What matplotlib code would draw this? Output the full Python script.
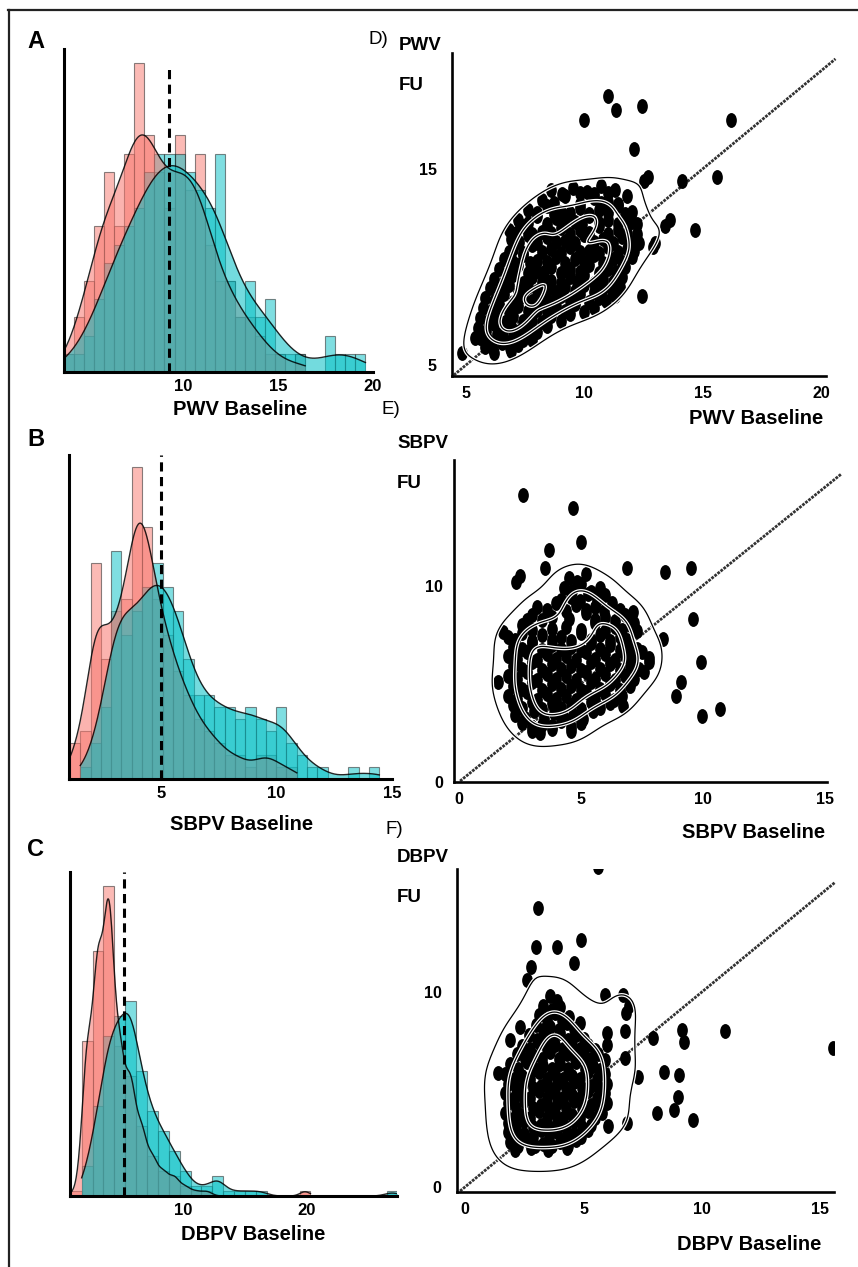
import numpy as np
import matplotlib
matplotlib.use("Agg")
import matplotlib.pyplot as plt
import matplotlib.patheffects as pe
import seaborn as sns
from matplotlib.path import Path
from matplotlib.transforms import Affine2D
from matplotlib.lines import Line2D

plt.rcParams['font.family'] = ['Liberation Sans', 'DejaVu Sans']

RED, CYAN = '#F8766D', '#00BFC4'

# ---- histogram data (counts per bin, 30 bins each) ----
pwv_edges = np.linspace(3.7, 19.6, 31)
pwv_red = [1, 3, 5, 8, 11, 8, 12, 17, 13, 11, 9, 13, 10, 12, 7, 5, 5, 3, 3, 2, 1, 1, 0, 1, 0, 0, 0, 0, 0, 0]
pwv_cyan = [1, 1, 2, 4, 6, 7, 8, 9, 11, 12, 12, 12, 11, 10, 9, 12, 5, 3, 5, 3, 4, 1, 1, 1, 0, 0, 2, 1, 1, 1]
pwv_mean = 9.25

sbpv_edges = np.linspace(1.04, 14.45, 31)
sbpv_red = [3, 4, 18, 10, 14, 15, 26, 21, 15, 12, 9, 7, 5, 4, 3, 2, 2, 1, 2, 2, 1, 1, 0, 0, 0, 0, 0, 0, 0, 0]
sbpv_cyan = [0, 1, 3, 6, 19, 12, 14, 16, 18, 16, 14, 10, 7, 7, 6, 6, 5, 6, 5, 4, 6, 3, 2, 1, 1, 0, 0, 1, 0, 1]
sbpv_mean = 4.97

dbpv_edges = np.linspace(0.95, 27.35, 31)
dbpv_red = [1, 31, 49, 62, 30, 24, 14, 8, 5, 4, 2, 1, 1, 0, 0, 0, 0, 0, 0, 0, 0, 1, 0, 0, 0, 0, 0, 0, 0, 0]
dbpv_cyan = [0, 6, 18, 32, 36, 39, 25, 17, 13, 9, 5, 2, 2, 4, 1, 1, 1, 1, 0, 0, 0, 0, 0, 0, 0, 0, 0, 0, 0, 1]
dbpv_mean = 5.24

# ---- scatter data: baseline vs follow-up ----
pwv_base = [8.6, 9.5, 10.1, 10.7, 11.3,
            8.2, 9.2, 10.4, 11.0, 11.8,
            7.6, 8.4, 9.0, 9.8, 10.6, 11.4, 12.0,
            7.2, 8.0, 8.8, 9.6, 10.2, 11.0, 11.8, 12.2,
            6.8, 7.4, 8.2, 9.0, 9.8, 10.6, 11.4, 12.2,
            6.9, 7.6, 8.4, 9.2, 10.0, 10.8, 11.6, 12.3,
            7.0, 7.8, 8.6, 9.4, 10.2, 11.0, 11.8,
            6.6, 7.4, 8.0, 8.8, 9.6, 10.4, 11.2, 12.0,
            6.4, 7.2, 8.0, 8.6, 9.4, 10.2, 11.0, 11.7,
            6.2, 7.0, 7.8, 8.6, 9.4, 10.0, 10.8, 11.6,
            6.0, 6.8, 7.6, 8.4, 9.2, 10.0, 10.8, 11.5,
            5.8, 6.6, 7.4, 8.2, 9.0, 9.8, 10.6, 11.3,
            5.7, 6.4, 7.2, 8.0, 8.8, 9.6, 10.4,
            5.6, 6.3, 7.0, 7.8, 8.6, 9.4,
            5.5, 6.2, 6.9, 7.6, 8.4,
            5.6, 6.3, 7.0, 7.8,
            5.8, 6.5, 7.2,
            6.2, 6.9,
            9.05, 9.8, 10.4, 11.0,
            8.7, 9.8, 10.7, 11.4,
            8.0, 8.7, 9.4, 10.2, 11.0, 11.7,
            7.6, 8.4, 9.2, 9.9, 10.6, 11.4, 12.0,
            7.1, 7.8, 8.6, 9.4, 10.2, 11.0, 11.8,
            7.25, 8.0, 8.8, 9.6, 10.4, 11.2, 11.95,
            6.8, 7.4, 8.2, 9.0, 9.8, 10.6, 11.4, 12.1,
            7.0, 7.7, 8.4, 9.2, 10.0, 10.8, 11.6,
            6.8, 7.6, 8.3, 9.0, 9.8, 10.6, 11.35,
            6.6, 7.4, 8.2, 9.0, 9.7, 10.4, 11.2,
            6.4, 7.2, 8.0, 8.8, 9.6, 10.4, 11.15,
            6.2, 7.0, 7.8, 8.6, 9.4, 10.2, 10.9,
            6.05, 6.8, 7.6, 8.4, 9.2, 10.0,
            5.95, 6.65, 7.4, 8.2, 9.0,
            5.85, 6.55, 7.25, 8.0,
            5.95, 6.65, 7.4,
            6.15, 6.85,
            11.0, 11.33, 12.44, 9.98, 16.17, 12.1, 12.5, 12.7, 14.1, 15.6,
            13.6, 13.4, 14.65, 12.9, 13.0, 12.45, 4.82, 5.4]
pwv_fu = [13.9, 14.0, 13.8, 14.1, 13.9,
          13.4, 13.6, 13.5, 13.3, 13.6,
          12.9, 13.1, 12.8, 13.0, 12.9, 13.1, 12.8,
          12.4, 12.6, 12.5, 12.3, 12.6, 12.4, 12.5, 12.2,
          11.9, 12.1, 11.8, 12.0, 11.9, 12.1, 11.9, 11.7,
          11.4, 11.6, 11.5, 11.3, 11.6, 11.4, 11.5, 11.2,
          10.9, 11.1, 10.9, 11.0, 10.8, 11.0, 10.9,
          10.4, 10.6, 10.3, 10.5, 10.4, 10.6, 10.4, 10.5,
          9.9, 10.1, 9.8, 10.0, 9.9, 10.1, 9.9, 10.0,
          9.4, 9.6, 9.5, 9.3, 9.5, 9.6, 9.4, 9.5,
          8.9, 9.1, 9.0, 8.8, 9.0, 9.1, 8.9, 9.0,
          8.4, 8.6, 8.5, 8.3, 8.5, 8.6, 8.4, 8.5,
          7.9, 8.1, 8.0, 7.8, 8.0, 8.1, 7.9,
          7.4, 7.6, 7.5, 7.3, 7.5, 7.6,
          6.9, 7.1, 7.0, 6.8, 7.0,
          6.4, 6.6, 6.5, 6.3,
          5.9, 6.1, 6.0,
          5.6, 5.7,
          13.7, 13.75, 13.7, 13.75,
          13.25, 13.2, 13.25, 13.2,
          12.75, 12.7, 12.75, 12.7, 12.75, 12.7,
          12.25, 12.2, 12.25, 12.2, 12.25, 12.2, 12.3,
          11.75, 11.7, 11.75, 11.7, 11.75, 11.7, 11.75,
          11.25, 11.2, 11.25, 11.2, 11.25, 11.2, 11.25,
          10.75, 10.7, 10.75, 10.7, 10.75, 10.7, 10.75, 10.8,
          10.25, 10.2, 10.25, 10.2, 10.25, 10.2, 10.25,
          9.75, 9.7, 9.75, 9.7, 9.75, 9.7, 9.75,
          9.25, 9.2, 9.25, 9.2, 9.25, 9.2, 9.25,
          8.75, 8.7, 8.75, 8.7, 8.75, 8.7, 8.75,
          8.25, 8.2, 8.25, 8.2, 8.25, 8.2, 8.25,
          7.75, 7.7, 7.75, 7.7, 7.75, 7.7,
          7.25, 7.2, 7.25, 7.2, 7.25,
          6.75, 6.7, 6.75, 6.7,
          6.25, 6.2, 6.25,
          5.8, 5.85,
          18.7, 18.0, 18.2, 17.5, 17.5, 16.0, 14.4, 14.6, 14.4, 14.6,
          12.4, 12.1, 11.9, 11.0, 11.2, 8.5, 5.6, 6.4]

sbpv_base = [4.5, 5.2,
             4.3, 5.0, 5.8,
             4.6, 5.3, 6.0,
             3.2, 4.0, 4.8, 5.6, 6.3,
             3.0, 3.8, 5.2, 6.0, 6.8,
             2.6, 4.4, 5.6, 6.4, 7.0,
             2.0, 2.6, 3.4, 4.2, 5.0, 5.8, 6.6,
             2.2, 3.0, 3.8, 4.6, 5.4, 6.2, 7.0,
             2.0, 2.8, 3.6, 4.4, 5.2, 6.0, 6.8, 7.5,
             2.2, 3.0, 3.8, 4.6, 5.4, 6.2, 7.0, 7.8,
             2.0, 2.8, 3.6, 4.4, 5.2, 6.0, 6.8, 7.6,
             2.2, 3.0, 3.8, 4.6, 5.4, 6.2, 7.0,
             2.0, 2.8, 3.6, 4.4, 5.2, 6.0, 6.7,
             2.2, 3.0, 3.8, 4.6, 5.4, 6.2,
             2.3, 3.1, 3.9, 4.7, 5.5,
             2.6, 3.4, 4.2, 5.0,
             3.0, 3.8, 4.6,
             4.85,
             4.65, 5.4,
             4.2, 4.95, 5.65,
             3.6, 4.4, 5.2, 5.95, 6.6,
             3.4, 4.5, 5.6, 6.4, 2.8,
             3.0, 3.8, 5.0, 6.0, 6.7, 7.3,
             2.3, 3.0, 3.8, 4.6, 5.4, 6.2, 6.9,
             2.6, 3.4, 4.2, 5.0, 5.8, 6.6, 7.3,
             2.4, 3.2, 4.0, 4.8, 5.6, 6.4, 7.15, 7.8,
             2.6, 3.4, 4.2, 5.0, 5.8, 6.6, 7.4,
             2.4, 3.2, 4.0, 4.8, 5.6, 6.4, 7.2,
             2.6, 3.4, 4.2, 5.0, 5.8, 6.6,
             2.4, 3.2, 4.0, 4.8, 5.6, 6.35,
             2.6, 3.4, 4.2, 5.0, 5.8,
             2.7, 3.5, 4.3, 5.1,
             3.0, 3.8, 4.6,
             2.61, 4.69, 5.0, 3.7, 3.52, 2.5, 2.36, 6.9, 8.47, 9.54, 9.6, 8.38,
             9.92, 9.13, 8.92, 9.99, 10.7, 7.15, 7.2, 1.82, 1.6, 3.32, 6.73]
sbpv_fu = [10.4, 10.6,
           9.9, 10.1, 9.9,
           9.4, 9.6, 9.5,
           8.9, 9.1, 9.0, 8.9, 9.1,
           8.5, 8.4, 8.6, 8.4, 8.5,
           8.0, 7.9, 8.1, 7.9, 8.0,
           7.4, 7.6, 7.5, 7.4, 7.6, 7.5, 7.4,
           6.9, 7.1, 7.0, 6.9, 7.1, 7.0, 6.9,
           6.4, 6.6, 6.5, 6.4, 6.6, 6.5, 6.4, 6.6,
           5.9, 6.1, 6.0, 5.9, 6.1, 6.0, 5.9, 6.1,
           5.4, 5.6, 5.5, 5.4, 5.6, 5.5, 5.4, 5.6,
           4.9, 5.1, 5.0, 4.9, 5.1, 5.0, 4.9,
           4.4, 4.6, 4.5, 4.4, 4.6, 4.5, 4.4,
           3.9, 4.1, 4.0, 3.9, 4.1, 4.0,
           3.4, 3.6, 3.5, 3.4, 3.6,
           3.0, 2.9, 3.1, 3.0,
           2.6, 2.7, 2.6,
           10.2,
           9.75, 9.7,
           9.25, 9.2, 9.25,
           8.75, 8.7, 8.75, 8.7, 8.75,
           8.25, 8.3, 8.25, 8.2, 8.25,
           7.75, 7.8, 7.75, 7.7, 7.75, 7.7,
           7.25, 7.2, 7.25, 7.2, 7.25, 7.2, 7.25,
           6.75, 6.7, 6.75, 6.7, 6.75, 6.7, 6.75,
           6.25, 6.2, 6.25, 6.2, 6.25, 6.2, 6.25, 6.3,
           5.75, 5.7, 5.75, 5.7, 5.75, 5.7, 5.75,
           5.25, 5.2, 5.25, 5.2, 5.25, 5.2, 5.25,
           4.75, 4.7, 4.75, 4.7, 4.75, 4.7,
           4.25, 4.2, 4.25, 4.2, 4.25, 4.2,
           3.75, 3.7, 3.75, 3.7, 3.75,
           3.25, 3.2, 3.25, 3.2,
           2.8, 2.85, 2.8,
           14.6, 13.95, 12.24, 11.8, 10.9, 10.5, 10.17, 10.88, 10.68, 10.88, 8.3, 7.3,
           6.12, 5.07, 4.4, 3.37, 3.7, 8.64, 8.1, 7.62, 5.07, 2.52, 3.88]

dbpv_base = [3.6,
             3.3, 4.0,
             3.1, 3.8, 4.4,
             3.0, 3.6, 4.3,
             2.7, 3.4, 4.0, 4.7,
             2.4, 3.1, 3.8, 4.5, 5.2,
             2.2, 2.9, 3.6, 4.3, 5.0, 5.6,
             1.9, 2.6, 3.3, 4.0, 4.7, 5.4,
             1.7, 2.4, 3.1, 3.8, 4.5, 5.2, 5.9,
             1.8, 2.5, 3.2, 3.9, 4.6, 5.3, 6.0,
             1.7, 2.4, 3.1, 3.8, 4.5, 5.2, 5.9,
             1.8, 2.5, 3.2, 3.9, 4.6, 5.3, 6.0,
             1.7, 2.4, 3.1, 3.8, 4.5, 5.2, 5.8,
             1.8, 2.5, 3.2, 3.9, 4.6, 5.3,
             1.8, 2.5, 3.2, 3.9, 4.6, 5.2,
             1.9, 2.6, 3.3, 4.0, 4.7,
             2.1, 2.8, 3.5, 4.3,
             3.9,
             3.65,
             3.45, 4.1,
             3.3, 3.95, 4.6,
             3.05, 3.7, 4.35, 5.0,
             2.75, 3.45, 4.15, 4.85, 5.5,
             2.55, 3.25, 3.95, 4.65, 5.3, 5.9,
             2.25, 2.95, 3.65, 4.35, 5.05, 5.7,
             2.05, 2.75, 3.45, 4.15, 4.85, 5.55,
             2.15, 2.85, 3.55, 4.25, 4.95, 5.65,
             2.05, 2.75, 3.45, 4.15, 4.85, 5.55,
             2.15, 2.85, 3.55, 4.25, 4.95, 5.65,
             2.05, 2.75, 3.45, 4.15, 4.85, 5.5,
             2.15, 2.85, 3.55, 4.25, 4.95,
             2.15, 2.85, 3.55, 4.25, 4.9,
             2.25, 2.95, 3.65, 4.35,
             5.6, 3.09, 2.99, 3.87, 4.89, 4.6, 2.77, 2.6, 5.9, 6.68, 6.9, 6.8,
             6.75, 4.85, 5.97, 6.0, 2.32, 1.9, 7.92, 9.14, 9.24, 10.97, 15.54,
             6.77, 7.31, 8.4, 9.04, 9.0, 8.8, 8.09, 9.63, 6.82, 6.05, 1.41]
dbpv_fu = [9.8,
           9.3, 9.2,
           8.8, 8.9, 8.7,
           8.3, 8.2, 8.4,
           7.8, 7.7, 7.9, 7.8,
           7.2, 7.4, 7.3, 7.2, 7.3,
           6.8, 6.7, 6.9, 6.8, 6.7, 6.8,
           6.3, 6.4, 6.2, 6.3, 6.4, 6.2,
           5.8, 5.7, 5.9, 5.8, 5.7, 5.9, 5.8,
           5.3, 5.4, 5.2, 5.3, 5.4, 5.2, 5.3,
           4.8, 4.7, 4.9, 4.8, 4.7, 4.9, 4.8,
           4.3, 4.4, 4.2, 4.3, 4.4, 4.2, 4.3,
           3.8, 3.7, 3.9, 3.8, 3.7, 3.9, 3.8,
           3.3, 3.4, 3.2, 3.3, 3.4, 3.2,
           2.8, 2.7, 2.9, 2.8, 2.7, 2.9,
           2.3, 2.4, 2.2, 2.3, 2.4,
           1.9, 2.0, 1.9, 2.0,
           9.55,
           9.05,
           8.55, 8.55,
           8.05, 8.05, 8.1,
           7.55, 7.55, 7.55, 7.6,
           7.05, 7.05, 7.05, 7.05, 7.0,
           6.55, 6.55, 6.55, 6.55, 6.55, 6.5,
           6.05, 6.05, 6.05, 6.05, 6.05, 6.0,
           5.55, 5.55, 5.55, 5.55, 5.55, 5.55,
           5.05, 5.05, 5.05, 5.05, 5.05, 5.05,
           4.55, 4.55, 4.55, 4.55, 4.55, 4.55,
           4.05, 4.05, 4.05, 4.05, 4.05, 4.05,
           3.55, 3.55, 3.55, 3.55, 3.55, 3.55,
           3.05, 3.05, 3.05, 3.05, 3.05,
           2.55, 2.55, 2.55, 2.55, 2.55,
           2.1, 2.1, 2.1, 2.1,
           16.4, 14.3, 12.3, 12.3, 12.67, 11.47, 11.3, 10.6, 9.85, 9.85, 9.3, 8.9,
           8.0, 8.39, 7.88, 7.3, 8.22, 7.55, 7.62, 8.05, 7.45, 7.97, 7.11,
           6.6, 5.66, 5.91, 5.74, 4.63, 3.94, 3.78, 3.44, 3.27, 3.1, 5.83]

W, H = 858, 1267
fig = plt.figure(figsize=(W / 100, H / 100), dpi=100)


def box(l, r, t, b):
    return [l / W, 1 - b / H, (r - l) / W, (b - t) / H]


def ftext(x, y, s, **kw):
    fig.text(x / W, 1 - y / H, s, **kw)


def kde_curve(edges, counts, bw):
    counts = np.asarray(counts, float)
    centers = (edges[:-1] + edges[1:]) / 2
    width = edges[1] - edges[0]
    nz = np.nonzero(counts)[0]
    grid = np.linspace(edges[nz[0]], edges[nz[-1] + 1], 400)
    g = np.exp(-0.5 * ((grid[:, None] - centers[None, :]) / bw) ** 2) / (bw * np.sqrt(2 * np.pi))
    return grid, (g * counts).sum(1) * width


def hist_panel(pos, edges, red, cyan, mean, bws, xlim, ylim, ticks, dash_top):
    ax = fig.add_axes(pos)
    w = edges[1] - edges[0]
    for counts, col, bw in [(red, RED, bws[0]), (cyan, CYAN, bws[1])]:
        ax.bar(edges[:-1], counts, width=w, align='edge', facecolor=(*matplotlib.colors.to_rgb(col), 0.5),
               edgecolor=(0.15, 0.15, 0.15, 0.55), linewidth=0.8, zorder=2)
        gx, gy = kde_curve(edges, counts, bw)
        ax.fill_between(gx, gy, color=col, alpha=0.55, lw=0, zorder=3)
        ax.plot(gx, gy, color='k', lw=1.0, alpha=0.85, zorder=4)
    ax.plot([mean, mean], [0, dash_top], color='k', lw=2.2, ls=(0, (3, 1.8)), zorder=5)
    ax.set_xlim(*xlim)
    ax.set_ylim(*ylim)
    ax.set_xticks(ticks)
    ax.set_yticks([])
    for s in ['top', 'right']:
        ax.spines[s].set_visible(False)
    for s in ['left', 'bottom']:
        ax.spines[s].set_linewidth(2.2)
        ax.spines[s].set_zorder(6)
    ax.tick_params(axis='x', length=0, pad=5, labelsize=12)
    for lab in ax.get_xticklabels():
        lab.set_fontweight('bold')
    return ax


hist_panel(box(64, 373, 49, 372), pwv_edges, pwv_red, pwv_cyan, pwv_mean, (0.75, 0.95),
           (3.7, 20.0), (0, 17.75), [10, 15, 20], 16.9)
hist_panel(box(69, 392, 455, 779), sbpv_edges, sbpv_red, sbpv_cyan, sbpv_mean, (0.42, 0.55),
           (1.0, 15.0), (0, 27), [5, 10, 15], 27)
hist_panel(box(70, 397, 872, 1196), dbpv_edges, dbpv_red, dbpv_cyan, dbpv_mean, (0.42, 0.6),
           (0.89, 27.3), (0, 64.8), [10, 20], 64.8)

ell = Path.unit_circle().transformed(Affine2D().scale(0.72, 1.0))


def scatter_panel(pos, x, y, xlim, ylim, xticks, yticks, line_end, ypad):
    ax = fig.add_axes(pos)
    lo = max(xlim[0], ylim[0]) + 0.05
    ax.plot([lo, line_end], [lo, line_end], color='#333333', lw=2.0, ls=(0, (1.0, 0.4)),
            clip_on=False, zorder=1)
    ax.scatter(x, y, marker=ell, s=115, c='k', linewidths=0, zorder=2)
    sns.kdeplot(x=x, y=y, ax=ax, levels=4, thresh=0.15, bw_adjust=0.85, color='k',
                linewidths=0.9, zorder=3)
    for c in ax.collections[1:]:
        c.set_path_effects([pe.Stroke(linewidth=2.6, foreground='white'), pe.Normal()])
    ax.set_xlim(*xlim)
    ax.set_ylim(*ylim)
    ax.set_xticks(xticks)
    ax.set_yticks(yticks)
    ax.set_xlabel('')
    ax.set_ylabel('')
    for s in ['top', 'right']:
        ax.spines[s].set_visible(False)
    for s in ['left', 'bottom']:
        ax.spines[s].set_linewidth(1.9)
        ax.spines[s].set_zorder(6)
    ax.tick_params(axis='x', length=0, pad=7, labelsize=11.5)
    ax.tick_params(axis='y', length=0, pad=ypad, labelsize=11.5)
    for lab in ax.get_xticklabels() + ax.get_yticklabels():
        lab.set_fontweight('bold')
    return ax


scatter_panel(box(452, 826, 53, 376), pwv_base, pwv_fu, (4.41, 20.2), (4.44, 20.9),
              [5, 10, 15, 20], [5, 15], 20.6, 11)
scatter_panel(box(454, 827, 460, 782), sbpv_base, sbpv_fu, (-0.2, 15.1), (0, 16.4),
              [0, 5, 10, 15], [0, 10], 15.7, 8)
scatter_panel(box(457, 834, 869, 1192), dbpv_base, dbpv_fu, (-0.34, 15.57), (-0.26, 16.3),
              [0, 5, 10, 15], [0, 10], 15.6, 11)

# panel letters and axis texts
for x, y, s in [(36, 42, 'A'), (36, 440, 'B'), (36, 850, 'C')]:
    ftext(x, y, s, fontsize=17, fontweight='bold', ha='center', va='center')
for x, y, s in [(378, 39, 'D)'), (391, 410, 'E)'), (394, 830, 'F)')]:
    ftext(x, y, s, fontsize=13.5, ha='center', va='center')
for x, y, s in [(399, 45, 'PWV'), (399, 86, 'FU'), (397, 444, 'SBPV'), (397, 483, 'FU'),
                (397, 857, 'DBPV'), (397, 897, 'FU')]:
    ftext(x, y, s, fontsize=13.5, fontweight='bold', ha='left', va='center')
for x, y, s in [(240, 409, 'PWV Baseline'), (242, 825, 'SBPV Baseline'), (253, 1235, 'DBPV Baseline'),
                (756, 419, 'PWV Baseline'), (754, 833, 'SBPV Baseline'), (749, 1245, 'DBPV Baseline')]:
    ftext(x, y, s, fontsize=14.5, fontweight='bold', ha='center', va='center')

# frame lines on top and left
fig.add_artist(Line2D([8 / W, 1], [1 - 10 / H, 1 - 10 / H], color='#222222', lw=1.6))
fig.add_artist(Line2D([8.5 / W, 8.5 / W], [0, 1 - 10 / H], color='#222222', lw=1.6))

fig.savefig("out.png", dpi=100)
